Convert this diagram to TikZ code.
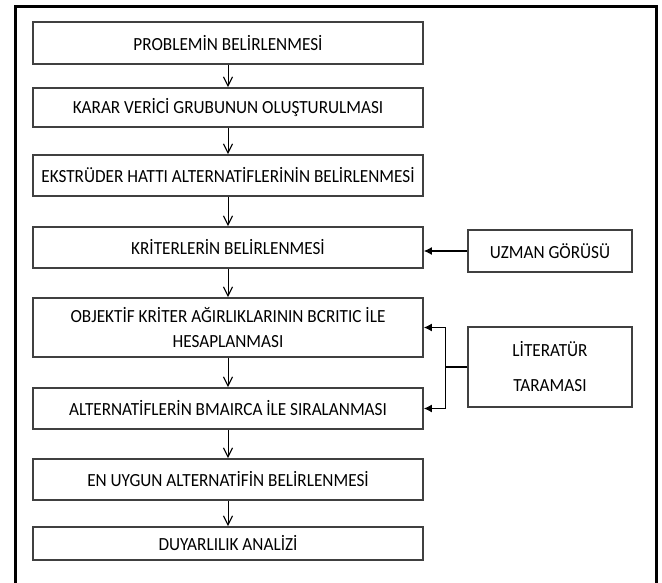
\documentclass[tikz,border=0pt]{standalone}
\usepackage{fontspec}
\setmainfont{Carlito}[FakeStretch=0.93]
\usetikzlibrary{arrows.meta}
\tikzset{
  adim/.style={draw=black!75, line width=1.6pt, minimum width=390pt, align=center,
    inner sep=0pt, font=\fontsize{18.5}{25}\selectfont},
  kaynak/.style={draw=black!75, line width=1.4pt, minimum width=164pt, align=center,
    inner sep=0pt, font=\fontsize{18.5}{35}\selectfont},
  asagi/.style={line width=1pt, -{Straight Barb[length=9pt, width=9pt, line width=1.2pt]}},
  yan/.style={line width=1.4pt, -{Latex[length=8pt, width=8pt]}}
}
\begin{document}
\begin{tikzpicture}[x=1pt, y=-1pt]
    \useasboundingbox (0,0) rectangle (662,583);
    % dis cerceve
    \draw[line width=3pt] (15,583) -- (15,7) -- (656,7) -- (656,583);
    % ana adimlar
    \foreach \i/\yc/\h/\txt in {
        1/43/42/{PROBLEMİN BELİRLENMESİ},
        2/107.5/39/{KARAR VERİCİ GRUBUNUN OLUŞTURULMASI},
        3/175.5/41/{EKSTRÜDER HATTI ALTERNATİFLERİNİN BELİRLENMESİ},
        4/247.5/41/{KRİTERLERİN BELİRLENMESİ},
        5/327.5/59/{OBJEKTİF KRİTER AĞIRLIKLARININ BCRITIC İLE\\HESAPLANMASI},
        6/408.5/41/{ALTERNATİFLERİN BMAIRCA İLE SIRALANMASI},
        7/479.5/41/{EN UYGUN ALTERNATİFİN BELİRLENMESİ},
        8/543.5/33/{DUYARLILIK ANALİZİ}} {
        \node[adim, minimum height=\h pt] (k\i) at (228,\yc) {\txt};
    }
    \foreach \i [evaluate=\i as \j using int(\i+1)] in {1,...,7} {
        \draw[asagi] (k\i.south) -- (k\j.north);
    }
    % dis kaynaklar
    \node[kaynak, minimum height=42pt] (uzman) at (550,251) {UZMAN GÖRÜSÜ};
    \node[kaynak, minimum height=80pt] (literatur) at (550,367) {LİTERATÜR\\TARAMASI};
    \draw[yan] (uzman.west) -- (k4.east |- uzman.west);
    \draw[yan] (literatur.west) -- ++(-22,0) |- (k5.east);
    \draw[yan] (literatur.west) -- ++(-22,0) |- (k6.east);
\end{tikzpicture}
\end{document}
